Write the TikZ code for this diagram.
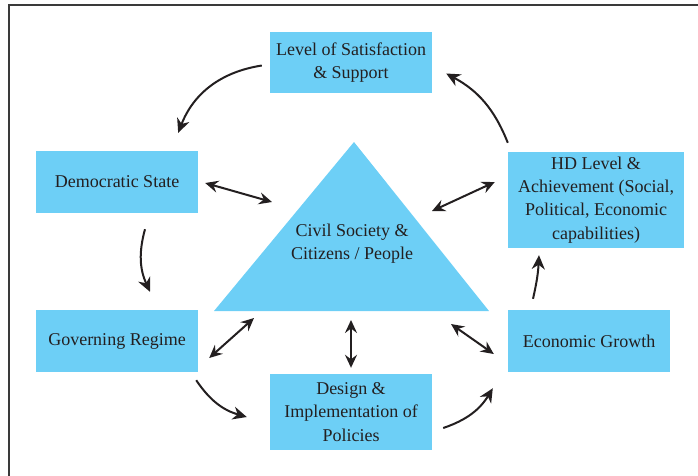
\documentclass[tikz,border=0pt]{standalone}
\usepackage{fontspec}
\setmainfont{Liberation Serif}
\usetikzlibrary{arrows.meta,calc}
\definecolor{boxblue}{HTML}{6DCFF6}
\definecolor{inkgray}{HTML}{231F20}
\definecolor{framegray}{HTML}{3A3A3A}

\begin{document}
\begin{tikzpicture}[x=1pt,y=-1pt,
    box/.style={fill=boxblue,text=inkgray,align=center,inner sep=0pt,
      font=\fontsize{18}{23.3}\selectfont},
    flow/.style={-{Stealth[length=14pt,width=13pt,inset=4.5pt]},line width=2pt,draw=inkgray},
    both/.style={{Stealth[length=13pt,width=12pt,inset=4.5pt]}-{Stealth[length=13pt,width=12pt,inset=4.5pt]},
      line width=2pt,draw=inkgray}]
  \useasboundingbox (0,0) rectangle (698,475);

  % Frame
  \draw[line width=2pt,framegray] (9,480) -- (9,5) -- (702,5);

  % Central triangle
  \fill[boxblue] (354,142) coordinate (apex) -- (489,311) coordinate (baser)
    -- (214,311) coordinate (basel) -- cycle;
  \node[text=inkgray,align=center,font=\fontsize{18}{23.3}\selectfont] (civ) at (352,243.5)
    {Civil Society \&\\Citizens / People};

  % Boxes round it
  \node[box,minimum width=162pt,minimum height=61pt] (sat) at (351,62.5)
    {Level of Satisfaction\\\& Support};
  \node[box,minimum width=162pt,minimum height=62pt] (dem) at (117,182) {Democratic State};
  \node[box,minimum width=176pt,minimum height=96pt] (hd) at (596,200)
    {HD Level \&\\Achievement (Social,\\Political, Economic\\capabilities)};
  \node[box,minimum width=162pt,minimum height=62pt] (gov) at (117,341) {Governing Regime};
  \node[box,minimum width=162pt,minimum height=76pt] (des) at (351,412)
    {Design \&\\Implementation of\\Policies};
  \node[box,minimum width=162pt,minimum height=62pt] (eco) at (589,341) {Economic Growth};

  % Ends at the triangle
  \coordinate (tdem) at (272,202);
  \coordinate (thd) at (432,211);
  \coordinate (tgov) at (254,318);
  \coordinate (tdes) at (351,320);
  \coordinate (teco) at (451,324);

  % Cycle
  \draw[flow] ([xshift=-8pt,yshift=-3pt]sat.west) to[bend right=30] ([xshift=-20pt,yshift=18pt]dem.north east);
  \draw[flow] ([xshift=28pt,yshift=-16pt]dem.south) to[bend right=20] ([xshift=33pt,yshift=18pt]gov.north);
  \draw[flow] ([xshift=-2pt,yshift=-8pt]gov.south east) to[bend right=20] ([xshift=-23pt,yshift=-5pt]des.west);
  \draw[flow] ([xshift=11pt,yshift=-16pt]des.east) to[bend right=20] ([xshift=-15pt,yshift=-16pt]eco.south west);
  \draw[flow] ([xshift=-56pt,yshift=11pt]eco.north) to[bend right=5] ([xshift=-57pt,yshift=-7pt]hd.south);
  \draw[flow] ([yshift=9pt]hd.north west) to[bend right=20] ([xshift=14pt,yshift=-11pt]sat.east);

  % Links with the triangle
  \draw[both] ([xshift=7pt,yshift=-1pt]dem.east) -- (tdem);
  \draw[both] ([xshift=-13pt,yshift=18pt]hd.west) -- (thd);
  \draw[both] ([xshift=11pt,yshift=-17pt]gov.east) -- (tgov);
  \draw[both] ([yshift=6pt]des.north) -- (tdes);
  \draw[both] ([xshift=-14pt,yshift=-13pt]eco.west) -- (teco);
\end{tikzpicture}
\end{document}
